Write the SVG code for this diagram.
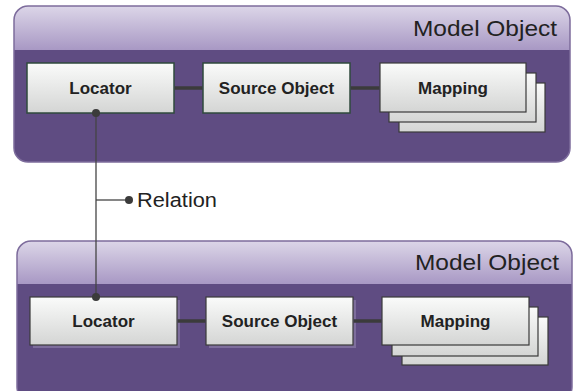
<svg xmlns="http://www.w3.org/2000/svg" width="574" height="391" viewBox="0 0 574 391">
<defs>
<linearGradient id="hdr" x1="0" y1="0" x2="0" y2="1">
<stop offset="0" stop-color="#dcd6e8"/>
<stop offset="1" stop-color="#a898c4"/>
</linearGradient>
<linearGradient id="box" x1="0" y1="0" x2="0" y2="1">
<stop offset="0" stop-color="#fafbfa"/>
<stop offset="1" stop-color="#d4d5d4"/>
</linearGradient>
<clipPath id="c1"><rect x="14" y="6" width="556" height="156" rx="14"/></clipPath>
<clipPath id="c2"><rect x="17" y="241" width="555" height="160" rx="14"/></clipPath>
</defs>
<style>
.body{fill:#5f4c82}
.frame{fill:none;stroke:#7d6c9c;stroke-width:1.5}
.title{font-family:"Liberation Sans",Arial,sans-serif;font-size:22px;fill:#222}
.box{fill:url(#box);stroke:#2f4a3c;stroke-width:1.5}
.box2{fill:url(#box);stroke:#3a3a3a;stroke-width:1.2}
.shadow{fill:#8a7ca6;opacity:0.7}
.lbl{font-family:"Liberation Sans",Arial,sans-serif;font-size:17px;font-weight:bold;fill:#222;text-anchor:middle}
.link{stroke:#3b3b3b;stroke-width:3.5;fill:none}
.rel{stroke:#444;stroke-width:1.3;fill:none}
.dot{fill:#3b3b3b}
.reltext{font-family:"Liberation Sans",Arial,sans-serif;font-size:20px;fill:#222}
</style>

<g id="model-object-top">
<g clip-path="url(#c1)">
<rect class="body" x="14" y="6" width="556" height="156"/>
<rect fill="url(#hdr)" x="14" y="6" width="556" height="44"/>
</g>
<rect class="frame" x="14" y="6" width="556" height="156" rx="14"/>
<text class="title" x="557" y="36" text-anchor="end" textLength="144" lengthAdjust="spacingAndGlyphs">Model Object</text>
</g>

<g id="model-object-bottom">
<g clip-path="url(#c2)">
<rect class="body" x="17" y="241" width="555" height="160"/>
<rect fill="url(#hdr)" x="17" y="241" width="555" height="43"/>
</g>
<rect class="frame" x="17" y="241" width="555" height="160" rx="14"/>
<text class="title" x="559" y="270" text-anchor="end" textLength="144" lengthAdjust="spacingAndGlyphs">Model Object</text>
</g>

<g id="relation-label">
<text class="reltext" x="137" y="207" textLength="80" lengthAdjust="spacingAndGlyphs">Relation</text>
</g>

<g id="locator-top">
<rect class="box" x="27" y="63" width="147" height="50"/>
<text class="lbl" x="100.5" y="94">Locator</text>
</g>
<g id="source-top">
<rect class="box" x="203" y="63" width="147" height="50"/>
<text class="lbl" x="276.5" y="94">Source Object</text>
</g>
<g id="mapping-top">
<rect class="box2" x="399" y="83" width="146" height="49"/>
<rect class="box2" x="389" y="73" width="147" height="49"/>
<rect class="box2" x="380" y="63" width="146" height="49"/>
<text class="lbl" x="453" y="94">Mapping</text>
</g>

<g id="locator-bottom">
<rect class="shadow" x="33" y="300" width="147" height="48"/>
<rect class="box2" x="30" y="297" width="147" height="48"/>
<text class="lbl" x="103.5" y="327">Locator</text>
</g>
<g id="source-bottom">
<rect class="shadow" x="209" y="300" width="147" height="48"/>
<rect class="box2" x="206" y="297" width="147" height="48"/>
<text class="lbl" x="279.5" y="327">Source Object</text>
</g>
<g id="mapping-bottom">
<rect class="box2" x="402" y="317" width="146" height="48"/>
<rect class="box2" x="392" y="307" width="146" height="49"/>
<rect class="box2" x="382" y="297" width="147" height="48"/>
<text class="lbl" x="455.5" y="327">Mapping</text>
</g>

<g id="connectors">
<line class="link" x1="174.8" y1="88" x2="202.2" y2="88"/>
<line class="link" x1="350.8" y1="88" x2="379.4" y2="88"/>
<line class="link" x1="177.6" y1="321" x2="205.4" y2="321"/>
<line class="link" x1="353.6" y1="321" x2="381.4" y2="321"/>
<line class="rel" x1="96" y1="113" x2="96" y2="297"/>
<line class="rel" x1="96" y1="200" x2="128" y2="200"/>
<circle class="dot" cx="96" cy="113" r="4"/>
<circle class="dot" cx="96" cy="297" r="4"/>
<circle class="dot" cx="129" cy="200" r="4"/>
</g>
</svg>
